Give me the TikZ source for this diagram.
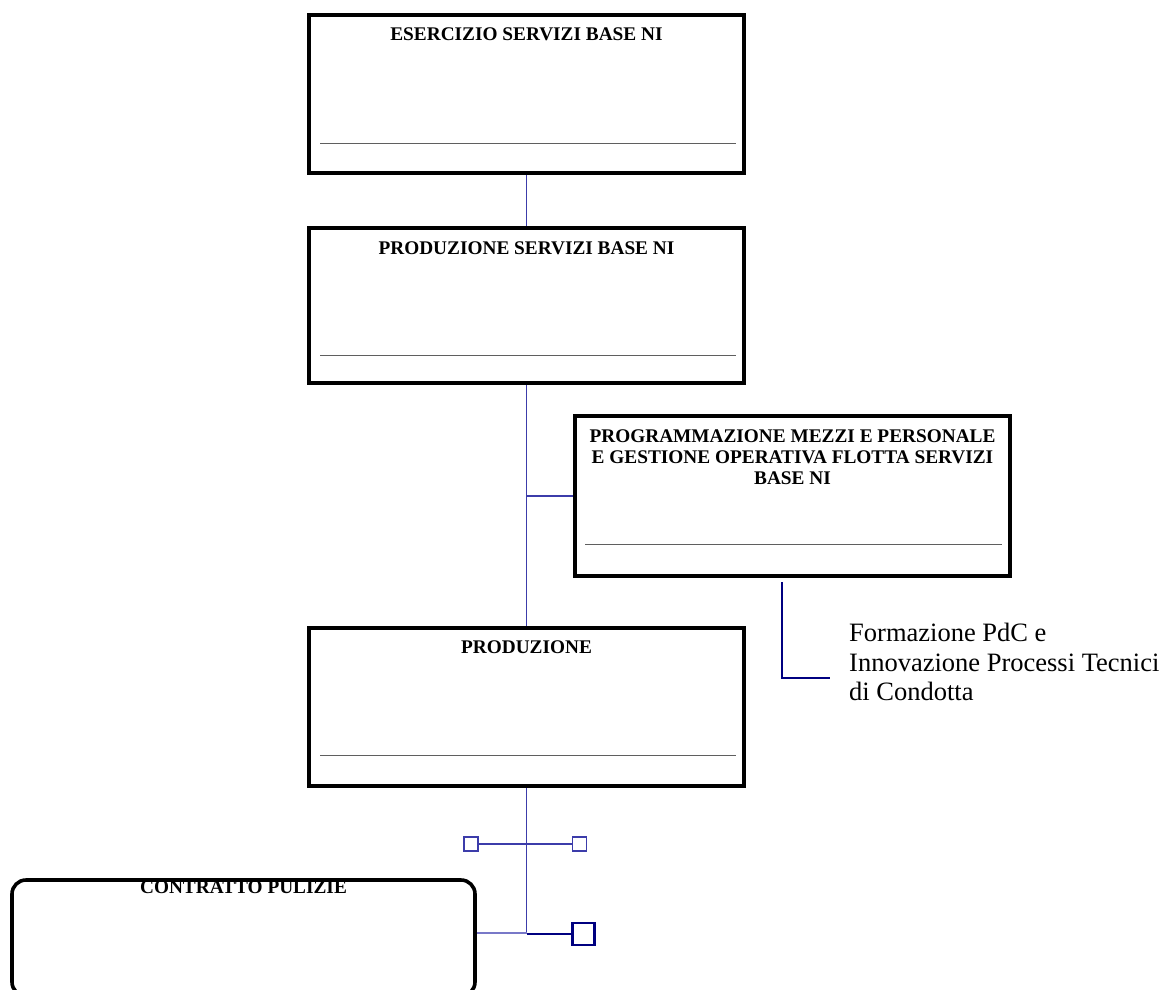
\documentclass[tikz,border=0pt]{standalone}
\usepackage{fontspec}
\setmainfont{Liberation Serif}
\usetikzlibrary{calc}
\definecolor{linkblue}{RGB}{60,60,170}
\definecolor{navy}{RGB}{0,0,128}
\definecolor{paleblue}{RGB}{120,120,200}
\definecolor{rulegray}{RGB}{95,95,95}
\begin{document}
\begin{tikzpicture}[x=1pt,y=-1pt,
  unitbox/.style={draw=black,line width=3.6pt,rectangle,inner sep=0pt,
    minimum width=435pt},
  roundbox/.style={unitbox,rounded corners=14pt},
  boxtitle/.style={inner sep=0pt,align=center,
    font=\fontsize{19.3}{21}\selectfont\bfseries},
  rule/.style={draw=rulegray,line width=1.3pt},
  link/.style={draw=linkblue,line width=1.3pt},
  softlink/.style={draw=paleblue,line width=1.6pt},
  darklink/.style={draw=navy,line width=1.8pt},
  pin/.style={draw=linkblue,line width=1.3pt,rectangle,inner sep=0pt,
    minimum size=14pt},
  bigpin/.style={draw=navy,line width=2.8pt,rectangle,inner sep=0pt,
    minimum size=22pt},
  note/.style={inner sep=0pt,align=left,anchor=north west,
    font=\fontsize{26.5}{29.5}\selectfont}]
\useasboundingbox (0,0) rectangle (1168,989);
\clip (0,0) rectangle (1168,989);

% organisation units
\node[unitbox,minimum height=158pt] (b1) at (526.5,94) {};
\node[unitbox,minimum height=155pt] (b2) at (526.5,305.5) {};
\node[unitbox,minimum height=160pt] (b3) at (792.5,496) {};
\node[unitbox,minimum height=158pt] (b4) at (526.5,707) {};
\node[roundbox,minimum width=463pt,minimum height=116pt] (b5) at (243.5,938) {};

% titles
\node[boxtitle] (t1) at ($(b1.north)+(0,21)$) {ESERCIZIO SERVIZI BASE NI};
\node[boxtitle] (t2) at ($(b2.north)+(0,22)$) {PRODUZIONE SERVIZI BASE NI};
\node[boxtitle,anchor=north] (t3) at ($(b3.north)+(0,15.5)$)
  {PROGRAMMAZIONE MEZZI E PERSONALE\\E GESTIONE OPERATIVA FLOTTA SERVIZI\\BASE NI};
\node[boxtitle] (t4) at ($(b4.north)+(0,21)$) {PRODUZIONE};
\node[boxtitle] (t5) at ($(b5.north)+(0,9)$) {CONTRATTO PULIZIE};

% name rules inside the units
\draw[rule] ($(b1.south west)+(13,-31)$) -- ($(b1.south east)+(-10,-31)$);
\draw[rule] ($(b2.south west)+(13,-29)$) -- ($(b2.south east)+(-10,-29)$);
\draw[rule] ($(b3.south west)+(12,-33)$) -- ($(b3.south east)+(-10,-33)$);
\draw[rule] ($(b4.south west)+(13,-32)$) -- ($(b4.south east)+(-10,-32)$);

% hierarchy
\draw[link] (b1.south) -- (b2.north);
\draw[link] (b2.south) -- (b4.north);
\draw[link] (b3.west) -- (b3.west -| b2.south);

% staff function under the planning unit
\coordinate (f0) at (782,582);
\coordinate (f1) at (782,678);
\coordinate (f2) at (830,678);
\draw[darklink] (f0) -- (f1) -- (f2);
\node[note] (fz) at (849,623)
  {Formazione PdC e\\Innovazione Processi Tecnici\\di Condotta};

% lower branch with markers
\node[pin] (p1) at (471,844) {};
\node[pin] (p2) at (579.5,844) {};
\node[bigpin] (p3) at (583.5,934) {};
\coordinate (j1) at (526.5,934);
\coordinate (s0) at ($(b5.north east)+(0,55)$);
\draw[link] (b4.south) -- (j1);
\draw[link] (p1.east) -- (p2.west);
\draw[navy,line width=2.2pt] (j1) -- (p3.west);
\draw[softlink] (s0) -- (s0 -| j1);
\end{tikzpicture}
\end{document}
